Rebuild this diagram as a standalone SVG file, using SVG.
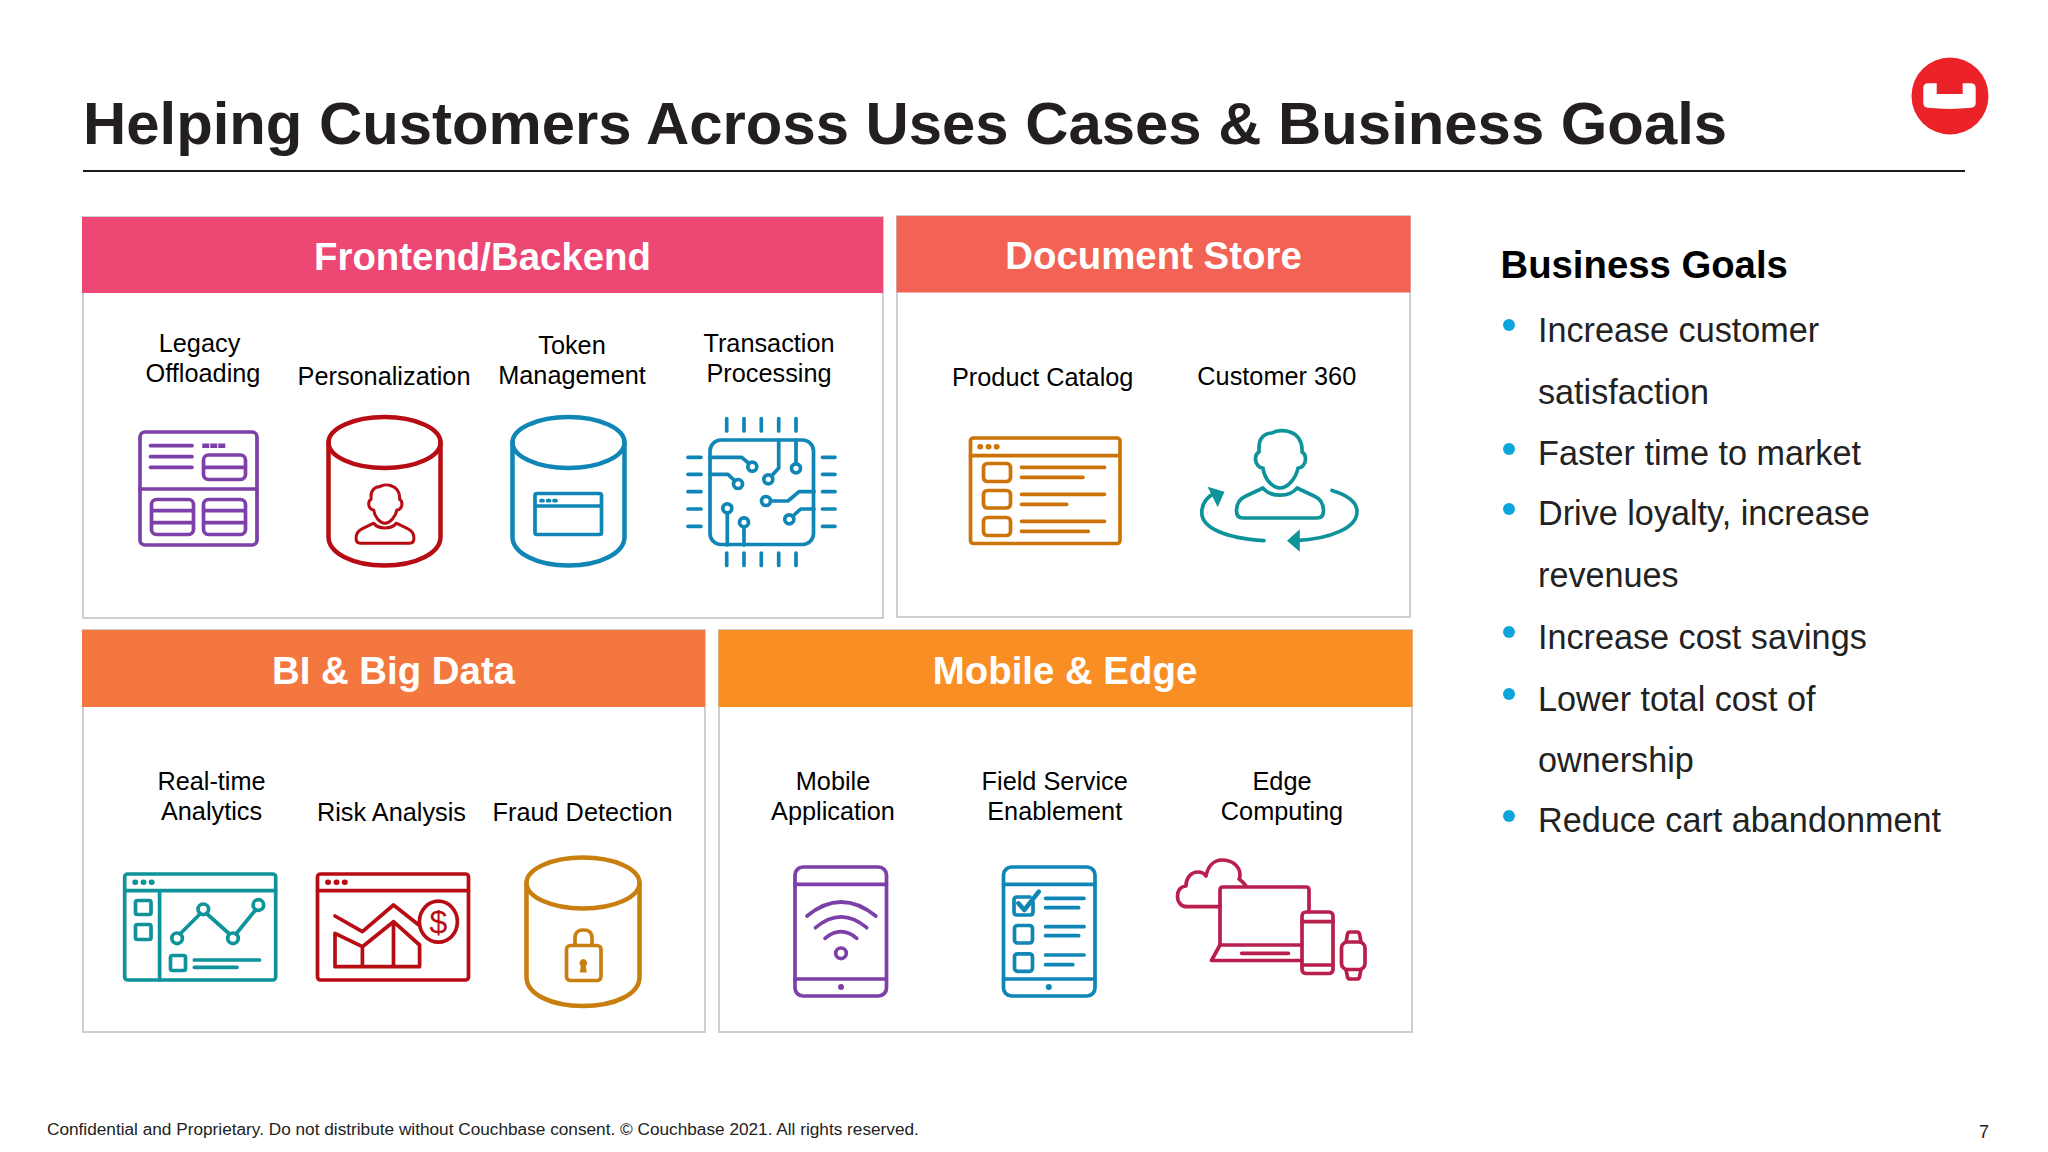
<svg xmlns="http://www.w3.org/2000/svg" width="2048" height="1152" viewBox="0 0 2048 1152">
<style>
text{font-family:"Liberation Sans",Arial,sans-serif;fill:#000}
.title{font-size:59.850px;font-weight:700;fill:#231f20}
.hd{font-size:38.400px;font-weight:700;fill:#fff;text-anchor:middle}
.lb{font-size:25.300px;text-anchor:middle}
.bt{font-size:34.200px;fill:#222}
.panel{fill:#fff;stroke:#cfcfd3;stroke-width:2}
.i{fill:none;stroke-width:3.700;stroke-linecap:round;stroke-linejoin:round}
.pu{stroke:#7d3fa8}.re{stroke:#b80c14}.bl{stroke:#0f86b6}.te{stroke:#0f939a}.am{stroke:#cc7408}.oc{stroke:#c97f10}.cr{stroke:#b81f4d}
</style>
<defs>
<g id="person">
<path d="M1263 468C1259 468 1255.500 464 1255.500 459C1255.500 455 1257 453 1259 452V447C1259 438 1265 433 1272 433C1277 430 1285 430 1290 432C1297 434 1302 441 1302 449V452C1304 453 1305.500 455 1305.500 459C1305.500 464 1302 468 1298 468C1296 478 1288 488 1280 488C1272 488 1264 478 1263 468Z"/>
<path d="M1263 488L1246 496C1239 499 1236.500 505 1236.500 511C1236.500 516 1238.500 518 1243 518H1317C1321.500 518 1323.500 516 1323.500 511C1323.500 505 1321 499 1314 496L1297 488C1290 497.500 1270 497.500 1263 488Z"/>
</g>
</defs>
<rect width="2048" height="1152" fill="#fff"/>
<g id="header">
<text class="title" x="83" y="144">Helping Customers Across Uses Cases &amp; Business Goals</text>
<rect x="83" y="170" width="1882" height="2" fill="#1a1a1a"/>
<circle cx="1950" cy="96" r="38.500" fill="#ec2229"/>
<path d="M1928 83.300H1936.700V94H1962.700V83.300H1971C1974 83.300 1975.700 85 1975.700 88V103C1975.700 106 1974 107.500 1971 107.800Q1950 110 1928 107.800C1925 107.500 1923.300 106 1923.300 103V88C1923.300 85 1925 83.300 1928 83.300Z" fill="#fff"/>
</g>

<g id="frontend-backend">
<rect class="panel" x="83" y="217" width="800" height="401"/>
<rect x="82" y="217" width="801" height="76" fill="#ec4873"/>
<text class="hd" x="482.500" y="270">Frontend/Backend</text>
</g>
<g id="legacy-offloading">
<text class="lb" x="199.500" y="352">Legacy</text><text class="lb" x="203" y="382">Offloading</text>
<g class="i pu">
<rect x="140" y="432" width="117" height="113" rx="5"/><path d="M140 489H257M150.500 445.700H192M150.500 456.700H192M150.500 467.300H192"/>
<path d="M204.500 445.700h2.500M212.500 445.700h2.500M220.500 445.700h2.500" stroke-width="4.500" stroke-linecap="square"/>
<rect x="203.500" y="455" width="42" height="24.500" rx="5"/><path d="M204 467.300H245"/>
<rect x="151.500" y="499.500" width="42" height="35" rx="5"/><path d="M152 510.700H193M152 522.700H193"/>
<rect x="203.500" y="499.500" width="42" height="35" rx="5"/><path d="M204 510.700H245M204 522.700H245"/>
</g></g>
<g id="personalization">
<text class="lb" x="384" y="385">Personalization</text>
<g class="i re" style="stroke-width:4.500">
<ellipse cx="384.500" cy="442.500" rx="56" ry="25.500"/><path d="M328.500 442.500V537C328.500 553 353 565.500 384.500 565.500C416 565.500 440.500 553 440.500 537V442.500"/>
</g>
<use href="#person" class="i re" style="stroke-width:4.600" transform="translate(-466.200 198.700) scale(.665)"/>
</g>
<g id="token-management">
<text class="lb" x="572" y="354">Token</text><text class="lb" x="572" y="384">Management</text>
<g class="i bl" style="stroke-width:4.500">
<ellipse cx="568.500" cy="442.500" rx="56" ry="25.500"/><path d="M512.500 442.500V537C512.500 553 537 565.500 568.500 565.500C600 565.500 624.500 553 624.500 537V442.500"/>
</g>
<g class="i bl">
<rect x="535" y="493.500" width="66.500" height="41" rx="2"/><path d="M535 506H601.500M541 500.700h2M547.600 500.700h2M554 500.700h2"/>
</g></g>
<g id="transaction-processing">
<text class="lb" x="769" y="352">Transaction</text><text class="lb" x="769" y="382">Processing</text>
<g class="i bl">
<rect x="710" y="440" width="103.500" height="104.500" rx="11"/>
<path d="M726.700 418.500V431M744 418.500V431M761.300 418.500V431M778.700 418.500V431M796 418.500V431M726.700 553V565.500M744 553V565.500M761.300 553V565.500M778.700 553V565.500M796 553V565.500M688 457.300H701M688 474.300H701M688 491.700H701M688 509H701M688 526.300H701M822.500 457.300H835M822.500 474.300H835M822.500 491.700H835M822.500 509H835M822.500 526.300H835"/>
<path d="M710 457.300H741.700L749 463.500M710 474.300H728L735 481M778.700 440V468L771.500 476M796 440V464M771 501H788L799 491.700H814M793 516L800.700 509H814M727.300 513V545M744 527V545"/>
<circle cx="752.300" cy="466.700" r="4.500"/><circle cx="738" cy="484" r="4.500"/><circle cx="768.300" cy="479.300" r="4.500"/><circle cx="796" cy="468.300" r="4.500"/><circle cx="766" cy="501" r="4.500"/><circle cx="789.300" cy="519.300" r="4.500"/><circle cx="727.300" cy="508.300" r="4.500"/><circle cx="744" cy="522.300" r="4.500"/>
</g></g>

<g id="document-store">
<rect class="panel" x="897" y="216" width="513" height="401"/>
<rect x="896.500" y="216" width="514" height="76.500" fill="#f26355"/>
<text class="hd" x="1153.500" y="269">Document Store</text>
</g>
<g id="product-catalog">
<text class="lb" x="1042.700" y="386">Product Catalog</text>
<g class="i am">
<rect x="970.500" y="438" width="149.500" height="105.500" rx="3"/><path d="M970.500 455.700H1120"/>
<path d="M980 446.700h.5M988.300 446.700h.5M996.400 446.700h.5" stroke-width="5.500"/>
<rect x="983.500" y="463.500" width="27" height="18" rx="4"/><rect x="983.500" y="490.500" width="27" height="17.500" rx="4"/><rect x="983.500" y="517.500" width="27" height="18" rx="4"/>
<path d="M1021.500 467.300H1104.500M1021.500 477.300H1083M1021.500 494.300H1104.500M1021.500 504.300H1066.700M1021.500 521.300H1104.500M1021.500 531.300H1088.300"/>
</g></g>
<g id="customer-360">
<text class="lb" x="1276.800" y="385">Customer 360</text>
<use href="#person" class="i te"/>
<g class="i te">
<path d="M1264 540.700C1225 538 1201 528 1201.800 511.700C1202 503 1207 497 1215 493M1332 490.500C1347 495 1357 502 1357 511.700C1357 528 1330 539 1296 540.700"/>
</g>
<path d="M1207.600 486.700L1224.500 491.700L1217.700 507.300ZM1287 540.700L1299.800 529.300V551.700Z" fill="#0f939a"/>
</g>

<g id="bi-big-data">
<rect class="panel" x="83" y="630" width="622" height="402"/>
<rect x="82" y="630" width="623" height="77" fill="#f47740"/>
<text class="hd" x="393.500" y="684">BI &amp; Big Data</text>
</g>
<g id="real-time-analytics">
<text class="lb" x="211.500" y="790">Real-time</text><text class="lb" x="211.500" y="820">Analytics</text>
<g class="i te">
<rect x="124.700" y="874" width="151" height="106" rx="3"/><path d="M124.700 890.700H275.700M159.600 891V980"/>
<path d="M135 882.300h.5M143.300 882.300h.5M151.400 882.300h.5" stroke-width="5.500"/>
<rect x="135.500" y="900.500" width="15.500" height="14" rx="2"/><rect x="135.500" y="924.500" width="15.500" height="15" rx="2"/>
<path d="M180 934L200.500 913.500M206.500 913.500L229.500 934M236 934L255.500 910"/>
<circle cx="177.100" cy="938.300" r="5.300"/><circle cx="203.300" cy="909.300" r="5.300"/><circle cx="233" cy="938.300" r="5.300"/><circle cx="258.400" cy="905" r="5.300"/>
<rect x="170.500" y="955.500" width="15" height="15" rx="2"/><path d="M194.300 960H259.600M194.300 967.300H237"/>
</g></g>
<g id="risk-analysis">
<text class="lb" x="391.500" y="821">Risk Analysis</text>
<g class="i re">
<rect x="317.500" y="874" width="151" height="106" rx="3"/><path d="M317.500 890.700H468.500"/>
<path d="M327.800 882.300h.5M336.300 882.300h.5M344.500 882.300h.5" stroke-width="5.500"/>
<path d="M335 916L362.400 931.700L393.500 905L418.800 925"/>
<path d="M335 933.300L362.400 946.700L393.500 921.700L419.600 945V966.700H335ZM362.400 946.700V966.700M393.500 921.700V966.700"/>
<ellipse cx="438.400" cy="921.700" rx="19" ry="20.500"/>
</g>
<text x="438.400" y="933" text-anchor="middle" style="font-size:32px;fill:#b80c14">$</text>
</g>
<g id="fraud-detection">
<text class="lb" x="582.500" y="821">Fraud Detection</text>
<g class="i oc" style="stroke-width:4.500">
<ellipse cx="583" cy="883" rx="56.500" ry="25.500"/><path d="M526.500 883V977C526.500 994 551 1006 583 1006C615 1006 639.500 994 639.500 977V883"/>
</g>
<g class="i oc">
<rect x="566.500" y="945.500" width="34.500" height="35" rx="4"/><path d="M575 945V938C575 932 578 930 583.500 930C589 930 592 932 592 938V945"/>
</g>
<path d="M583.300 959a4 4 0 0 1 2.500 7l1 6.500h-7l1-6.500a4 4 0 0 1 2.500-7Z" fill="#c97f10"/>
</g>

<g id="mobile-edge">
<rect class="panel" x="719" y="630" width="693" height="402"/>
<rect x="718.500" y="630" width="694" height="77" fill="#f98e25"/>
<text class="hd" x="1065" y="684">Mobile &amp; Edge</text>
</g>
<g id="mobile-application">
<text class="lb" x="833" y="790">Mobile</text><text class="lb" x="833" y="820">Application</text>
<g class="i pu">
<rect x="795" y="867" width="91.500" height="129" rx="8"/><path d="M795 884.300H886.500M795 979H886.500"/>
<path d="M807 916Q841 888 875.800 916M815.500 927.700Q841 906 866.700 927.700M825 938.300Q841 925 856.800 938.300"/>
<circle cx="841" cy="953.300" r="5.300"/>
</g><circle cx="841" cy="987" r="3" fill="#7d3fa8"/>
</g>
<g id="field-service-enablement">
<text class="lb" x="1054.700" y="790">Field Service</text><text class="lb" x="1054.700" y="820">Enablement</text>
<g class="i bl">
<rect x="1003.500" y="867" width="91.500" height="129" rx="8"/><path d="M1003.500 884.300H1095M1003.500 979H1095"/>
<path d="M1033 902V912Q1033 915 1030 915H1017Q1014 915 1014 912V900Q1014 897 1017 897H1030"/>
<rect x="1014.500" y="925.500" width="18" height="17.500" rx="3"/><rect x="1014.500" y="953.800" width="18" height="17.500" rx="3"/>
<path d="M1018.400 903.300L1024.300 910L1038.800 891.700" stroke-width="4.500"/>
<path d="M1045.600 898.300H1084M1045.600 907.700H1078.700M1045.600 926.700H1084M1045.600 935.700H1078.700M1045.600 955H1084M1045.600 964.700H1072.800"/>
</g><circle cx="1048.800" cy="987" r="3" fill="#0f86b6"/>
</g>
<g id="edge-computing">
<text class="lb" x="1282" y="790">Edge</text><text class="lb" x="1282" y="820">Computing</text>
<g class="i cr">
<path d="M1220 906.700H1187C1181 906.700 1177.500 902 1177.500 896.700C1177.500 890 1181 886.500 1186 886C1186 878 1191 872 1198 872C1202 872 1204 873 1206 876C1208 866 1214 860 1222 860C1232 860 1240 866 1240 875C1240 877 1240 878 1239 879C1242 881 1244 883 1246 886"/>
<path d="M1220 945V890Q1220 887 1223 887H1306Q1309 887 1309 890V911.700"/>
<path d="M1220 945L1211.500 960.500H1301.700M1220 945H1301.700"/>
<path d="M1241.700 953.300H1288.300"/>
<rect x="1302" y="912" width="31" height="61.500" rx="4"/><path d="M1302 921.700H1333M1302 965H1333"/>
<rect x="1341.500" y="942" width="23.500" height="27.500" rx="6"/>
<path d="M1346 942L1347.500 934Q1348 932 1350 932H1357Q1359 932 1359.500 934L1361 942M1346 969.500L1347.500 977Q1348 979 1350 979H1357Q1359 979 1359.500 977L1361 969.500"/>
</g></g>

<g id="business-goals">
<text x="1500.500" y="277.500" style="font-size:38.300px;font-weight:700">Business Goals</text>
<g fill="#0ea5dd"><circle cx="1509" cy="325" r="6"/><circle cx="1509" cy="449" r="6"/><circle cx="1509" cy="509" r="6"/><circle cx="1509" cy="632" r="6"/><circle cx="1509" cy="694" r="6"/><circle cx="1509" cy="816" r="6"/></g>
<text class="bt" x="1538" y="342">Increase customer</text>
<text class="bt" x="1538" y="404">satisfaction</text>
<text class="bt" x="1538" y="465">Faster time to market</text>
<text class="bt" x="1538" y="525">Drive loyalty, increase</text>
<text class="bt" x="1538" y="587">revenues</text>
<text class="bt" x="1538" y="649">Increase cost savings</text>
<text class="bt" x="1538" y="711">Lower total cost of</text>
<text class="bt" x="1538" y="772">ownership</text>
<text class="bt" x="1538" y="832">Reduce cart abandonment</text>
</g>
<g id="footer">
<text x="47" y="1135" style="font-size:17.230px;fill:#222">Confidential and Proprietary. Do not distribute without Couchbase consent. © Couchbase 2021. All rights reserved.</text>
<text x="1979" y="1138" style="font-size:18px;fill:#222">7</text>
</g>
</svg>
